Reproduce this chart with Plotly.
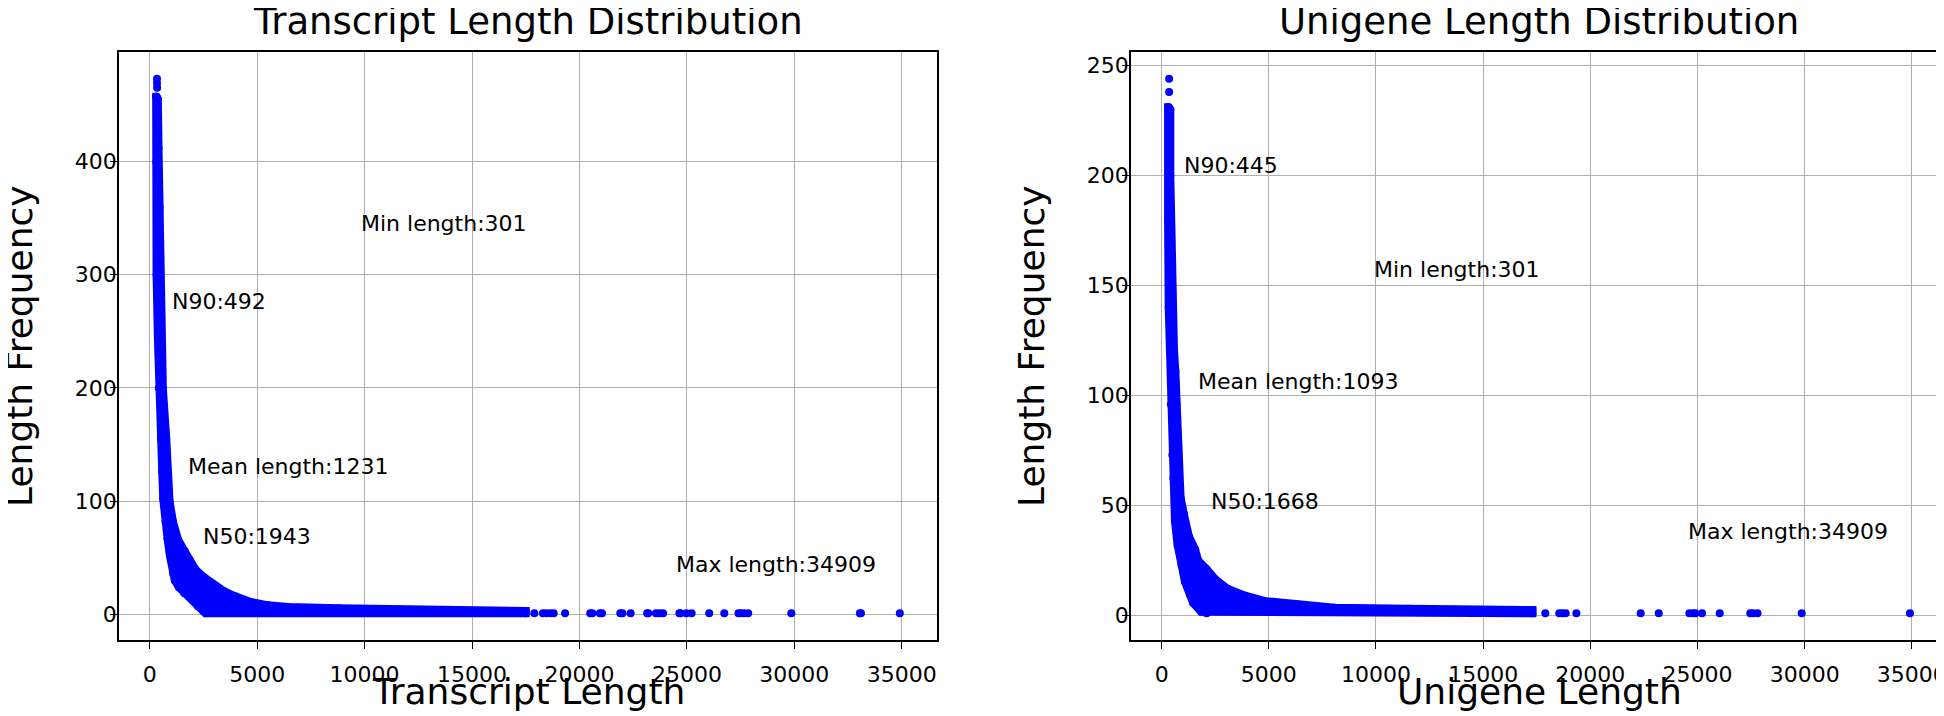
import plotly.graph_objects as go

# ---------------- data ----------------
# Transcript panel: outline of the dense point cloud (outer edge, then inner edge back)
tr_outer_len = [320, 378, 410, 457, 480, 537, 611, 770, 845, 924, 1078, 1320, 1624, 1857,
                2114, 2580, 3047, 3500, 3980, 4700, 5500, 6450, 8790, 11600, 14000, 17500]
tr_outer_freq = [457, 455, 412, 359, 306, 244, 200, 155, 126, 100, 82, 66, 56, 48,
                 40, 32, 25, 20, 16, 11, 8, 6.5, 5.5, 4.5, 4, 3]
tr_inner_len = [17500, 2600, 2490, 2250, 2067, 1600, 1360, 1170, 1097, 940, 830, 737, 630,
                583, 518, 425, 380, 320, 305, 301]
tr_inner_freq = [1, 1, 3, 7, 12, 19, 24, 30, 36, 52, 67, 82, 102,
                 126, 155, 200, 244, 300, 400, 457]
# isolated points (top of the column and long-length tail)
tr_pts_len = [340, 340, 345, 17900, 18300, 18470, 18650, 18800, 19330, 20500, 20600, 20950,
              21050, 21900, 22000, 22380, 23150, 23200, 23560, 23720, 23890, 24650, 24700,
              24970, 25220, 26040, 26740, 27400, 27500, 27650, 27850, 29860, 33050, 33100, 34909]
tr_pts_freq = [473, 469, 465] + [1] * 32

# Unigene panel
ug_outer_len = [330, 405, 405, 452, 500, 575, 640, 686, 732, 807, 886, 1040, 1270, 1563,
                1703, 2100, 2496, 3100, 3895, 4830, 6370, 8080, 11500, 14000, 17300]
ug_outer_freq = [231, 230, 200, 170, 140, 121, 111, 96, 80.6, 65.6, 53.4, 46, 36, 30,
                 25, 21, 16.5, 12, 9, 6.5, 5, 3.5, 3, 2.5, 2.5]
ug_inner_len = [17300, 2100, 1843, 1470, 1320, 1087, 933, 746, 621, 546, 499, 434, 387,
                330, 301, 301]
ug_inner_freq = [1, 1, 1.7, 5.7, 9.5, 15.4, 23, 32, 43, 62.5, 73, 96, 126,
                 140, 180, 231]
ug_pts_len = [350, 350, 17900, 18550, 18700, 18850, 19350, 22350, 23190, 24620, 24800,
              24900, 25210, 26035, 27460, 27600, 27800, 29860, 34909]
ug_pts_freq = [244, 238] + [1] * 17

x_ticks = [0, 5000, 10000, 15000, 20000, 25000, 30000, 35000]
tr_y_ticks = [0, 100, 200, 300, 400]
ug_y_ticks = [0, 50, 100, 150, 200, 250]

tr_stats = ["Min length:301", "N90:492", "Mean length:1231", "N50:1943", "Max length:34909"]
ug_stats = ["N90:445", "Min length:301", "Mean length:1093", "N50:1668", "Max length:34909"]

titles = ["Transcript Length Distribution", "Unigene Length Distribution"]
x_titles = ["Transcript Length", "Unigene Length"]
y_title = "Length Frequency"

# ---------------- figure ----------------
BLUE = "#0000ff"
FONT = "DejaVu Sans"
W, H = 1944, 716

fig = go.Figure()


def add_panel(outer_x, outer_y, inner_x, inner_y, px, py, xa, ya):
    poly_x = outer_x + inner_x + [outer_x[0]]
    poly_y = outer_y + inner_y + [outer_y[0]]
    fig.add_trace(go.Scatter(x=poly_x, y=poly_y, mode="lines+markers", fill="toself",
                             fillcolor=BLUE, line=dict(color=BLUE, width=8),
                             marker=dict(color=BLUE, size=8),
                             xaxis=xa, yaxis=ya, hoverinfo="skip", showlegend=False))
    fig.add_trace(go.Scatter(x=px, y=py, mode="markers",
                             marker=dict(color=BLUE, size=8, line=dict(width=0)),
                             xaxis=xa, yaxis=ya, showlegend=False))


add_panel(tr_outer_len, tr_outer_freq, tr_inner_len, tr_inner_freq, tr_pts_len, tr_pts_freq, "x", "y")
add_panel(ug_outer_len, ug_outer_freq, ug_inner_len, ug_inner_freq, ug_pts_len, ug_pts_freq, "x2", "y2")

yd = [(H - 632) / H, (H - 44) / H]
dom_left = [111 / W, 929 / W]
dom_right = [1123 / W, 1939 / W]

common = dict(showline=True, mirror=True, linecolor="black", linewidth=1.6,
              showgrid=True, gridcolor="#b0b0b0", gridwidth=1, zeroline=False,
              ticks="outside", ticklen=7, tickwidth=1.4, tickcolor="black",
              tickfont=dict(family=FONT, size=22, color="black"), tickformat="d")

fig.update_layout(
    width=W, height=H, margin=dict(l=0, r=0, t=0, b=0),
    paper_bgcolor="white", plot_bgcolor="white", showlegend=False,
    xaxis=dict(domain=dom_left, range=[-1429, 36639], tickmode="array", tickvals=x_ticks,
               anchor="y", ticklabelstandoff=7, **common),
    yaxis=dict(domain=yd, range=[-22.6, 496.6], tickmode="array", tickvals=tr_y_ticks,
               anchor="x", ticklabelstandoff=-11, **common),
    xaxis2=dict(domain=dom_right, range=[-1429, 36639], tickmode="array", tickvals=x_ticks,
                anchor="y2", ticklabelstandoff=7, **common),
    yaxis2=dict(domain=yd, range=[-11.15, 256.15], tickmode="array", tickvals=ug_y_ticks,
                anchor="x2", ticklabelstandoff=-11, **common),
)

ann = []
# panel titles
for cx, t in zip([(111 + 929) / 2 / W, (1123 + 1939) / 2 / W], titles):
    ann.append(dict(text=t, x=cx, y=(H - 14) / H, xref="paper", yref="paper",
                    xanchor="center", yanchor="middle", showarrow=False,
                    font=dict(family=FONT, size=37, color="black")))
# x-axis titles
for cx, t in zip([(111 + 929) / 2 / W, (1123 + 1939) / 2 / W], x_titles):
    ann.append(dict(text=t, x=cx, y=(H - 683) / H, xref="paper", yref="paper",
                    xanchor="center", yanchor="middle", showarrow=False,
                    font=dict(family=FONT, size=36, color="black")))
# y-axis titles
for cx in [11 / W, 1023 / W]:
    ann.append(dict(text=y_title, x=cx, y=(H - 338) / H, xref="paper", yref="paper",
                    xanchor="center", yanchor="middle", textangle=-90, showarrow=False,
                    font=dict(family=FONT, size=36, color="black")))
# statistics labels
tr_pos = [(9744, 345), (924, 276), (1704, 131), (2370, 69), (24400, 44)]
ug_pos = [(952, 204.7), (9830, 157.2), (1586, 106.2), (2193, 51.8), (24440, 38)]
for (x, y), t in zip(tr_pos, tr_stats):
    ann.append(dict(text=t, x=x, y=y, xref="x", yref="y", xanchor="left", yanchor="middle",
                    showarrow=False, font=dict(family=FONT, size=22, color="black")))
for (x, y), t in zip(ug_pos, ug_stats):
    ann.append(dict(text=t, x=x, y=y, xref="x2", yref="y2", xanchor="left", yanchor="middle",
                    showarrow=False, font=dict(family=FONT, size=22, color="black")))
fig.update_layout(annotations=ann)

fig.write_html("out.html")
